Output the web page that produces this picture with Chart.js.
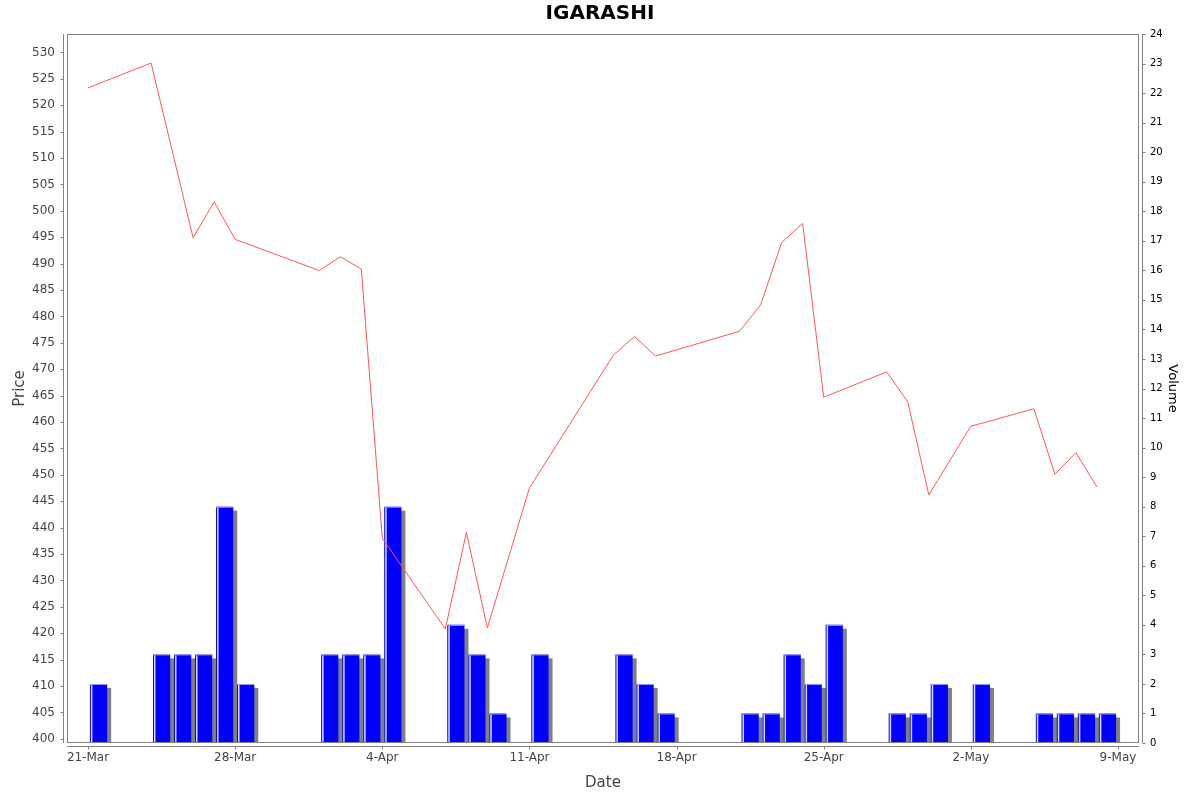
<!DOCTYPE html>
<html>
<head>
<meta charset="utf-8">
<script src="https://cdn.jsdelivr.net/npm/chart.js@4.4.1/dist/chart.umd.min.js"></script>
<style>
  html, body { margin: 0; padding: 0; background: #fff; }
</style>
</head>
<body>
<canvas id="graficoIgarashi" width="1200" height="792"></canvas>
<script>
// trading days (price on 25-Mar not visible as a vertex, left empty)
var fechas = ['21-Mar', '24-Mar', '25-Mar', '26-Mar', '27-Mar', '28-Mar',
  '1-Apr', '2-Apr', '3-Apr', '4-Apr', '7-Apr', '8-Apr', '9-Apr', '11-Apr',
  '15-Apr', '16-Apr', '17-Apr', '21-Apr', '22-Apr', '23-Apr', '24-Apr', '25-Apr',
  '28-Apr', '29-Apr', '30-Apr', '2-May', '5-May', '6-May', '7-May', '8-May'];

var precios = [523.3, 528.0, null, 494.9, 501.7, 494.6,
  488.7, 491.3, 489.0, 438.0, 420.8, 439.1, 421.0, 447.5,
  472.7, 476.2, 472.5, 477.2, 482.2, 494.0, 497.6, 464.7,
  469.5, 463.8, 446.2, 459.2, 462.5, 450.1, 454.2, 447.7];

var volumenes = [2, 3, 3, 3, 8, 2,
  3, 3, 3, 8, 4, 3, 1, 3,
  3, 2, 1, 1, 1, 3, 2, 4,
  1, 1, 2, 2, 1, 1, 1, 1];

var ticksFecha = ['21-Mar', '28-Mar', '4-Apr', '11-Apr', '18-Apr', '25-Apr', '2-May', '9-May'];

// days counted from 21-Mar
var inicioMes = { Mar: 0, Apr: 31, May: 61 };
function diaDe(texto) {
  var partes = texto.split('-');
  return inicioMes[partes[1]] + Number(partes[0]) - 21;
}

var gris = '#808080';

// JFreeChart-like frame: plot box, offset axis lines, short ticks, bar shadows
var marco = {
  id: 'marco',
  beforeDatasetDraw: function (chart, args) {
    if (args.index !== 1) return;
    var ctx = chart.ctx;
    ctx.save();
    ctx.fillStyle = gris;
    args.meta.data.forEach(function (barra) {
      var p = barra.getProps(['x', 'y', 'base', 'width'], true);
      ctx.fillRect(p.x - p.width / 2 + 4, p.y + 4, p.width, p.base - p.y - 4);
    });
    ctx.restore();
  },
  afterDatasetDraw: function (chart, args) {
    if (args.index !== 1) return;
    var ctx = chart.ctx;
    ctx.save();
    args.meta.data.forEach(function (barra) {
      var p = barra.getProps(['x', 'y', 'base', 'width'], true);
      var izq = p.x - p.width / 2;
      ctx.fillStyle = 'rgba(255,255,255,0.85)';
      ctx.fillRect(izq + 1, p.y + 1, 1.5, p.base - p.y - 1);
      ctx.fillStyle = '#a0a0ff';
      ctx.fillRect(izq, p.y, p.width, 1);
    });
    ctx.restore();
  },
  afterDraw: function (chart) {
    var ctx = chart.ctx;
    var a = chart.chartArea;
    ctx.save();
    ctx.strokeStyle = gris;
    ctx.lineWidth = 1;
    ctx.strokeRect(Math.round(a.left) + 0.5, Math.round(a.top) + 0.5,
      Math.round(a.right - a.left) - 1, Math.round(a.bottom - a.top) - 1);

    ctx.beginPath();
    var xi = Math.round(a.left) - 4 + 0.5;
    ctx.moveTo(xi, a.top); ctx.lineTo(xi, a.bottom);
    chart.scales.y.ticks.forEach(function (t) {
      var py = Math.round(chart.scales.y.getPixelForValue(t.value)) + 0.5;
      ctx.moveTo(xi, py); ctx.lineTo(xi - 3, py);
    });

    var xd = Math.round(a.right) + 4 - 0.5;
    ctx.moveTo(xd, a.top); ctx.lineTo(xd, a.bottom);
    chart.scales.yv.ticks.forEach(function (t) {
      var py = Math.round(chart.scales.yv.getPixelForValue(t.value)) + 0.5;
      ctx.moveTo(xd, py); ctx.lineTo(xd + 3, py);
    });

    var yb = Math.round(a.bottom) + 4 - 0.5;
    ctx.moveTo(a.left, yb); ctx.lineTo(a.right, yb);
    chart.scales.x.ticks.forEach(function (t) {
      var px = Math.round(chart.scales.x.getPixelForValue(t.value)) + 0.5;
      ctx.moveTo(px, yb); ctx.lineTo(px, yb + 3);
    });
    ctx.stroke();
    ctx.restore();
  }
};

var puntosPrecio = fechas.map(function (f, i) {
  return { x: diaDe(f), y: precios[i] };
});
var barrasVolumen = fechas.map(function (f, i) {
  return { x: diaDe(f) + 0.5, y: volumenes[i] };
});

var fuente = 'DejaVu Sans';

new Chart(document.getElementById('graficoIgarashi'), {
  type: 'line',
  data: {
    datasets: [
      {
        type: 'line',
        label: 'Price',
        data: puntosPrecio,
        yAxisID: 'y',
        borderColor: '#ff5555',
        borderWidth: 1,
        pointRadius: 0,
        tension: 0,
        spanGaps: true,
        order: 1,
      },
      {
        type: 'bar',
        label: 'Volume',
        data: barrasVolumen,
        yAxisID: 'yv',
        backgroundColor: '#0000ff',
        borderWidth: 0,
        categoryPercentage: 1,
        barPercentage: 0.82,
        order: 2,
      },
    ],
  },
  options: {
    responsive: false,
    animation: false,
    devicePixelRatio: 1,
    layout: { padding: 0 },
    plugins: {
      legend: { display: false },
      tooltip: { enabled: false },
      title: {
        display: true,
        text: 'IGARASHI',
        color: '#000',
        font: { family: fuente, size: 20, weight: 'bold' },
        padding: { top: 2, bottom: 8 },
      },
    },
    scales: {
      x: {
        type: 'linear',
        min: -1,
        max: 50,
        offset: false,
        afterBuildTicks: function (escala) {
          escala.ticks = ticksFecha.map(function (t) { return { value: diaDe(t) }; });
        },
        afterFit: function (escala) { escala.height = 49; },
        ticks: {
          autoSkip: false,
          maxRotation: 0,
          padding: 2,
          color: '#444',
          font: { family: fuente, size: 12 },
          callback: function (valor, indice) { return ticksFecha[indice]; },
        },
        grid: { drawOnChartArea: false, drawTicks: true, tickLength: 6, color: 'rgba(0,0,0,0)', offset: false },
        border: { display: false },
        title: {
          display: true,
          text: 'Date',
          color: '#444',
          font: { family: fuente, size: 15 },
          padding: { top: 7, bottom: 0 },
        },
      },
      y: {
        type: 'linear',
        position: 'left',
        min: 399.2,
        max: 533.5,
        afterFit: function (escala) { escala.width = 67; },
        ticks: {
          stepSize: 5,
          includeBounds: false,
          padding: 4,
          color: '#444',
          font: { family: fuente, size: 12 },
        },
        grid: { drawOnChartArea: false, drawTicks: true, tickLength: 8, color: 'rgba(0,0,0,0)' },
        border: { display: false },
        title: {
          display: true,
          text: 'Price',
          color: '#444',
          font: { family: fuente, size: 15 },
          padding: { top: 11, bottom: 0 },
        },
      },
      yv: {
        type: 'linear',
        position: 'right',
        min: 0,
        max: 24,
        afterFit: function (escala) { escala.width = 61; },
        ticks: {
          stepSize: 1,
          padding: 3,
          color: '#000',
          font: { family: fuente, size: 10 },
        },
        grid: { drawOnChartArea: false, drawTicks: true, tickLength: 8, color: 'rgba(0,0,0,0)' },
        border: { display: false },
        title: {
          display: true,
          text: 'Volume',
          color: '#000',
          font: { family: fuente, size: 13 },
          padding: { top: 20, bottom: 0 },
        },
      },
    },
  },
  plugins: [marco],
});
</script>
</body>
</html>
